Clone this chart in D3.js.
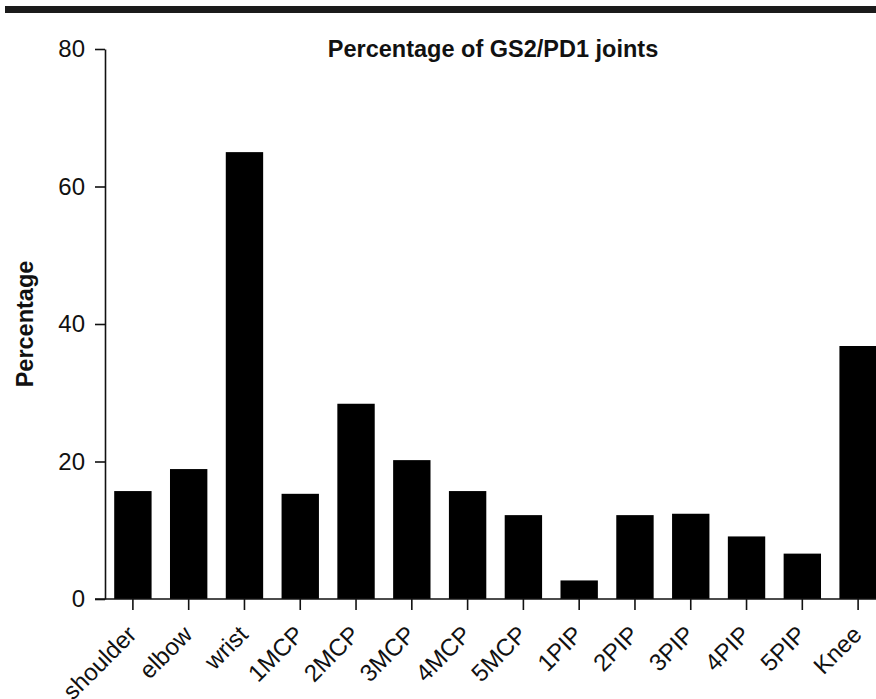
<!DOCTYPE html>
<html>
<head>
<meta charset="utf-8">
<script src="https://cdn.jsdelivr.net/npm/d3@7"></script>
<style>
  html, body { margin: 0; padding: 0; background: #fff; }
  svg { display: block; }
  text { font-family: "Liberation Sans", Arial, sans-serif; fill: #111; }
</style>
</head>
<body>
<svg id="chart" width="876" height="699"></svg>
<script>
// Joint categories and the percentage of GS2/PD1 joints for each
const joints = ["shoulder", "elbow", "wrist", "1MCP", "2MCP", "3MCP", "4MCP", "5MCP",
                "1PIP", "2PIP", "3PIP", "4PIP", "5PIP", "Knee"];
const percentages = [15.7, 18.9, 65.0, 15.3, 28.4, 20.2, 15.7, 12.2,
                     2.7, 12.2, 12.4, 9.1, 6.6, 36.8];
const yTicks = [0, 20, 40, 60, 80];
const title = "Percentage of GS2/PD1 joints";
const yLabel = "Percentage";

const svg = d3.select("#chart");
const ink = "#111";
const font = "'Liberation Sans', Arial, sans-serif";

// Header rule across the top of the figure
svg.append("rect")
  .attr("x", 5).attr("y", 6).attr("width", 871).attr("height", 7)
  .attr("fill", "#1b1b1b");

const x = d3.scaleBand()
  .domain(joints)
  .range([105, 886])
  .paddingInner(0.33)
  .paddingOuter(0.165);

const y = d3.scaleLinear()
  .domain([0, 80])
  .range([599, 49]);

// Bars
svg.append("g")
  .selectAll("rect")
  .data(joints)
  .join("rect")
  .attr("x", d => x(d))
  .attr("width", x.bandwidth())
  .attr("y", (d, i) => y(percentages[i]))
  .attr("height", (d, i) => y(0) - y(percentages[i]))
  .attr("fill", "#000");

// Y axis
const yAxis = svg.append("g")
  .attr("transform", "translate(105,0)")
  .call(d3.axisLeft(y).tickValues(yTicks).tickSize(10).tickSizeOuter(0).tickPadding(10));
yAxis.select(".domain").attr("stroke", ink).attr("stroke-width", 1.6);
yAxis.selectAll(".tick line").attr("stroke", ink).attr("stroke-width", 1.6);
yAxis.selectAll(".tick text")
  .style("font-size", "24px")
  .style("font-family", font)
  .attr("fill", ink);

// X axis
const xAxis = svg.append("g")
  .attr("transform", "translate(0,599)")
  .call(d3.axisBottom(x).tickSize(11).tickSizeOuter(0));
xAxis.select(".domain").remove();
xAxis.append("line")
  .attr("x1", 95).attr("x2", 876).attr("y1", 0).attr("y2", 0)
  .attr("stroke", ink).attr("stroke-width", 1.6);
xAxis.selectAll(".tick line").attr("stroke", ink).attr("stroke-width", 1.6);
xAxis.selectAll(".tick text")
  .style("font-size", "24px")
  .style("font-family", font)
  .attr("fill", ink)
  .attr("text-anchor", "end")
  .attr("dy", null)
  .attr("y", 0)
  .attr("transform", "translate(5,37) rotate(-45)");

// Title
svg.append("text")
  .attr("x", 493).attr("y", 57)
  .attr("text-anchor", "middle")
  .style("font-size", "23.5px")
  .style("font-weight", "bold")
  .text(title);

// Y axis label
svg.append("text")
  .attr("transform", "translate(33,324) rotate(-90)")
  .attr("text-anchor", "middle")
  .style("font-size", "23.5px")
  .style("font-weight", "bold")
  .text(yLabel);
</script>
</body>
</html>
